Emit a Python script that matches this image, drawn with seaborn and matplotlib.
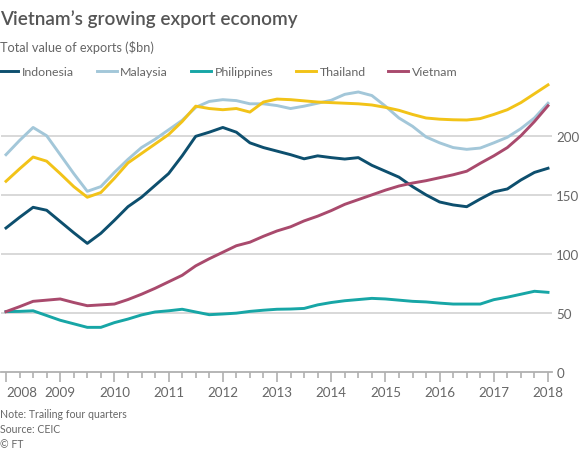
import numpy as np
import pandas as pd
import matplotlib
matplotlib.use("Agg")
import matplotlib.pyplot as plt
from matplotlib.ticker import MultipleLocator
import seaborn as sns

# ---- data (quarterly, trailing four quarters, $bn) ----
quarters = [2008 + i / 4 for i in range(41)]
indonesia = [122, 131, 139.5, 137, 127.5, 118, 109, 117.5, 128.5, 140, 148, 158, 168, 183,
             199.5, 203, 207, 203, 194, 190, 187, 184, 180.5, 183, 181.5, 180.3, 181.5, 175,
             170, 165, 157, 150, 144, 141.5, 140, 146.5, 152.5, 155, 162.6, 169, 172.5]
malaysia = [184, 196, 207, 200, 184, 168, 153, 157, 169, 180, 190, 197, 205, 213, 224, 229,
            230.5, 229.7, 227, 227, 225.5, 223, 225, 227.5, 230, 235, 237, 234, 225, 215, 208,
            199, 194, 190, 188.5, 189.6, 194, 198.7, 206, 215, 227.5]
philippines = [51.3, 51.5, 52, 48, 44, 41, 38, 38, 42, 45, 48.5, 51, 52, 53.3, 51, 48.7, 49.3,
               50, 51.5, 52.5, 53.3, 53.5, 54, 57, 59, 60.5, 61.5, 62.5, 62, 61, 60, 59.5, 58.5,
               57.7, 57.7, 57.7, 61.4, 63.5, 66, 68.5, 67.6]
thailand = [161.5, 172, 182, 178.5, 168, 157, 148, 152, 164, 177, 185, 193, 201, 212, 225, 223,
            222, 223, 220, 228.5, 231, 230.5, 229.5, 228.5, 228, 227.5, 227, 226, 224, 221.5,
            218, 215, 214, 213.5, 213.3, 214.5, 218, 222, 228, 235.5, 243]
vietnam = [51.3, 55.5, 60, 61, 62, 59, 56.3, 57, 57.7, 61.5, 66, 71, 76.5, 82, 90, 96, 101.5,
           107, 110, 115, 119.5, 123, 128, 132, 136.7, 142, 146, 150, 154, 157.5, 160, 162,
           164.5, 167, 170, 176.7, 183, 190, 200, 212, 225.4]

countries = ["Indonesia", "Malaysia", "Philippines", "Thailand", "Vietnam"]
series = [indonesia, malaysia, philippines, thailand, vietnam]
colors = ["#0d4f6e", "#a3c7d9", "#17a6a6", "#f2c318", "#a94a6d"]
year_labels = [str(y) for y in range(2008, 2019)]
y_ticks = [0, 50, 100, 150, 200]

df = pd.concat([pd.DataFrame({"quarter": quarters, "value": v, "country": c})
                for c, v in zip(countries, series)], ignore_index=True)

# ---- figure ----
W, H = 580, 452
fig = plt.figure(figsize=(W / 100, H / 100), dpi=100)
fig.patch.set_facecolor("white")
ax_left, ax_right, ax_top, ax_bottom = 1, 552, 77.6, 373.3
ax = fig.add_axes([ax_left / W, 1 - ax_bottom / H, (ax_right - ax_left) / W,
                   (ax_bottom - ax_top) / H])
ax.set_facecolor("none")

sns.lineplot(data=df, x="quarter", y="value", hue="country", hue_order=countries,
             palette=colors, linewidth=2.1, ax=ax, legend=True)

ppy = 54.2
ax.set_xlim(2008 - 5 / ppy, 2018 + 4 / ppy)
ax.set_ylim(0, 250)

font = "Lato"
txt_grey = "#666666"
grid_grey = "#d5d5d5"
axis_grey = "#b0b0b0"

# y axis on right
ax.yaxis.tick_right()
ax.set_yticks(y_ticks)
ax.set_yticklabels([str(t) for t in y_ticks], fontsize=9.6, color=txt_grey, family=font)
ax.tick_params(axis="y", length=0, pad=3)
for t in y_ticks[1:]:
    ax.axhline(t, color=grid_grey, lw=1.3, zorder=0)

# x axis
ax.set_xticks(list(range(2008, 2019)))
ax.set_xticklabels(year_labels, fontsize=9.6, color=txt_grey, family=font)
ax.xaxis.set_minor_locator(MultipleLocator(0.25))
ax.tick_params(axis="x", which="major", length=7, width=1.2, color=axis_grey, pad=3)
ax.tick_params(axis="x", which="minor", length=4.5, width=1.2, color=axis_grey)
ax.get_xticklabels()[0].set_ha("left")
ax.set_xlabel("")
ax.set_ylabel("")
for s in ["top", "left", "right"]:
    ax.spines[s].set_visible(False)
ax.spines["bottom"].set_color(axis_grey)
ax.spines["bottom"].set_linewidth(1.3)

# legend
handles, labels = ax.get_legend_handles_labels()
ax.legend_.remove()
leg = fig.legend(handles, labels, loc="center left", bbox_to_anchor=(-0.003, 1 - 72.5 / H),
                 ncol=5, frameon=False, prop={"family": font, "size": 8.9},
                 handlelength=1.6, handletextpad=0.3, columnspacing=1.85,
                 borderaxespad=0, borderpad=0)
for t in leg.get_texts():
    t.set_color(txt_grey)
for lh in leg.get_lines():
    lh.set_linewidth(2.1)

# titles and footer
fig.text(0.0, 1 - 19 / H, "Vietnam\u2019s growing export economy", fontsize=13.6,
         fontweight="semibold", color="#555555", family=font, va="center", ha="left")
fig.text(0.0, 1 - 47 / H, "Total value of exports ($bn)", fontsize=9.2,
         color=txt_grey, family=font, va="center", ha="left")
fig.text(0.0, 1 - 415 / H, "Note: Trailing four quarters", fontsize=7.6,
         color=txt_grey, family=font, va="center", ha="left")
fig.text(0.0, 1 - 430 / H, "Source: CEIC", fontsize=7.6,
         color=txt_grey, family=font, va="center", ha="left")
fig.text(0.0, 1 - 445 / H, "\u00a9 FT", fontsize=7.6,
         color=txt_grey, family=font, va="center", ha="left")

fig.savefig("out.png", dpi=100, facecolor="white")
